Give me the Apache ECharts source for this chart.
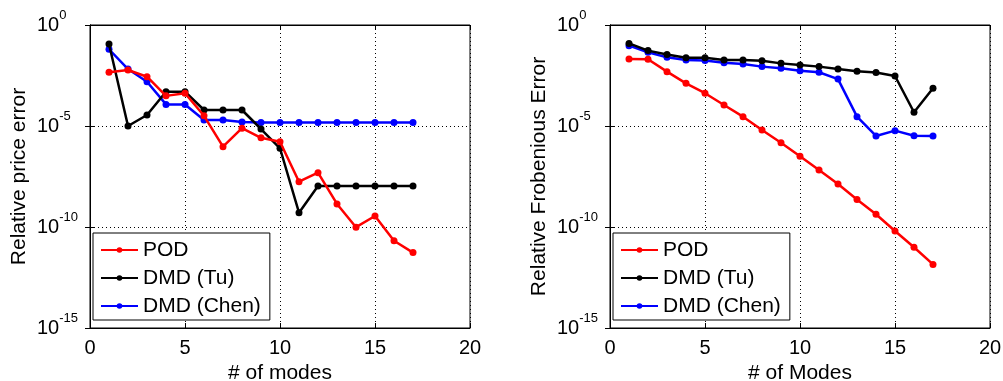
<!DOCTYPE html>
<html>
<head>
<meta charset="utf-8">
<script src="https://cdn.jsdelivr.net/npm/echarts@6/dist/echarts.min.js"></script>
<style>
html,body{margin:0;padding:0;background:#fff;}
#c{width:1003px;height:381px;}
</style>
</head>
<body>
<div id="c"></div>
<script>
// ---- data ----
var modes = [1,2,3,4,5,6,7,8,9,10,11,12,13,14,15,16,17];
var xTicks = [0,5,10,15,20];
var yTickExponents = [0,-5,-10,-15];

// left panel: relative price error
var pricePOD  = [4.6e-3,5.9e-3,2.75e-3,3.1e-4,4.2e-4,3.2e-5,9.5e-7,7.8e-6,2.6e-6,1.66e-6,1.74e-8,4.9e-8,1.38e-9,9.8e-11,3.5e-10,2.1e-11,5.4e-12];
var priceTu   = [0.115,1.0e-5,3.5e-5,5.0e-4,5.0e-4,6.2e-5,6.2e-5,6.2e-5,7.1e-6,7.9e-7,5.1e-10,1.07e-8,1.07e-8,1.07e-8,1.07e-8,1.07e-8,1.07e-8];
var priceChen = [0.063,6.6e-3,1.55e-3,1.17e-4,1.17e-4,2.0e-5,2.0e-5,1.58e-5,1.51e-5,1.51e-5,1.51e-5,1.51e-5,1.51e-5,1.51e-5,1.51e-5,1.51e-5,1.51e-5];

// right panel: relative Frobenious error
var frobPOD  = [0.021,0.020,4.9e-3,1.29e-3,4.2e-4,1.10e-4,2.9e-5,6.3e-6,1.48e-6,3.2e-7,6.6e-8,1.35e-8,2.3e-9,4.3e-10,6.3e-11,1.0e-11,1.41e-12];
var frobTu   = [0.123,0.054,0.035,0.024,0.024,0.0186,0.0186,0.017,0.0126,0.0105,8.7e-3,6.6e-3,5.2e-3,4.4e-3,3.0e-3,4.8e-5,7.4e-4];
var frobChen = [0.095,0.045,0.025,0.0186,0.0174,0.0135,0.0117,8.7e-3,7.2e-3,5.5e-3,4.6e-3,2.1e-3,2.9e-5,3.2e-6,5.9e-6,3.3e-6,3.2e-6];

var seriesNames = ['POD','DMD (Tu)','DMD (Chen)'];
var seriesColors = ['#ff0000','#000000','#0000ff'];
var yTitles = ['Relative price error','Relative Frobenious Error'];
var xTitles = ['# of modes','# of Modes'];

// ---- chart ----
var FONT = 'Liberation Sans, Arial, Helvetica, sans-serif';
function pairs(ys){ return modes.map(function(m,i){ return [m, ys[i]]; }); }
function expLabel(v){
  var e = Math.round(Math.log10(v));
  return '{b|10}{s|' + e + '}';
}
var gridLefts = [90, 610];
var grids = gridLefts.map(function(l){ return {left:l, top:25, width:380, height:303, show:true, borderColor:'#000', borderWidth:1, backgroundColor:'#fff', containLabel:false, outerBoundsMode:'none'}; });

var xAxes = [], yAxes = [];
[0,1].forEach(function(g){
  xAxes.push({
    type:'value', gridIndex:g, min:xTicks[0], max:xTicks[xTicks.length-1], interval:5,
    name:xTitles[g], nameLocation:'middle', nameGap:33,
    nameTextStyle:{fontFamily:FONT, fontSize:21, color:'#000', verticalAlign:'top'},
    axisLine:{lineStyle:{color:'#000', width:1}},
    axisTick:{inside:true, length:5, lineStyle:{color:'#000'}},
    axisLabel:{fontFamily:FONT, fontSize:20, color:'#000', margin:10},
    splitLine:{show:true, lineStyle:{color:'#000', type:[1,3], width:1}}
  });
  yAxes.push({
    type:'log', logBase:10, gridIndex:g, min:1e-15, max:1, interval:5,
    name:yTitles[g], nameLocation:'middle', nameGap:60, nameRotate:90,
    nameTextStyle:{fontFamily:FONT, fontSize:21, color:'#000'},
    axisLine:{lineStyle:{color:'#000', width:1}},
    axisTick:{inside:true, length:5, lineStyle:{color:'#000'}},
    minorTick:{show:false},
    axisLabel:{
      fontFamily:FONT, color:'#000', align:'left', margin:53,
      formatter:expLabel,
      rich:{
        b:{fontFamily:FONT, fontSize:20, color:'#000', padding:[6,0,6,0]},
        s:{fontFamily:FONT, fontSize:13, color:'#000', verticalAlign:'top'}
      }
    },
    splitLine:{show:true, lineStyle:{color:'#000', type:[1,3], width:1}}
  });
});
// top/right tick-only axes
[0,1].forEach(function(g){
  xAxes.push({type:'value', gridIndex:g, position:'top', min:0, max:20, interval:5,
    axisLine:{lineStyle:{color:'#000'}}, axisTick:{inside:true, length:5, lineStyle:{color:'#000'}},
    axisLabel:{show:false}, splitLine:{show:false}});
  yAxes.push({type:'log', logBase:10, gridIndex:g, position:'right', min:1e-15, max:1, interval:5,
    axisLine:{lineStyle:{color:'#000'}}, axisTick:{inside:true, length:5, lineStyle:{color:'#000'}},
    axisLabel:{show:false}, splitLine:{show:false}});
});

var dataSets = [[pricePOD, priceTu, priceChen],[frobPOD, frobTu, frobChen]];
var series = [];
[0,1].forEach(function(g){
  dataSets[g].forEach(function(ys,k){
    series.push({
      type:'line', name:seriesNames[k], xAxisIndex:g, yAxisIndex:g,
      data:pairs(ys), symbol:'circle', symbolSize:7, showAllSymbol:true,
      itemStyle:{color:seriesColors[k]}, lineStyle:{color:seriesColors[k], width:2.5},
      z: 3 - k
    });
  });
});

var legends = [93, 613].map(function(l){
  return {
    orient:'vertical', left:l, top:233, data:seriesNames,
    backgroundColor:'#fff', borderColor:'#000', borderWidth:1,
    padding:[6,9,3,7], itemGap:6, itemWidth:37, itemHeight:7,
    textStyle:{fontFamily:FONT, fontSize:21, color:'#000', lineHeight:22},
    selectedMode:false
  };
});

var chart = echarts.init(document.getElementById('c'), null, {renderer:'canvas'});
chart.setOption({
  animation:false,
  backgroundColor:'#fff',
  grid:grids, xAxis:xAxes, yAxis:yAxes, series:series, legend:legends
});
</script>
</body>
</html>
